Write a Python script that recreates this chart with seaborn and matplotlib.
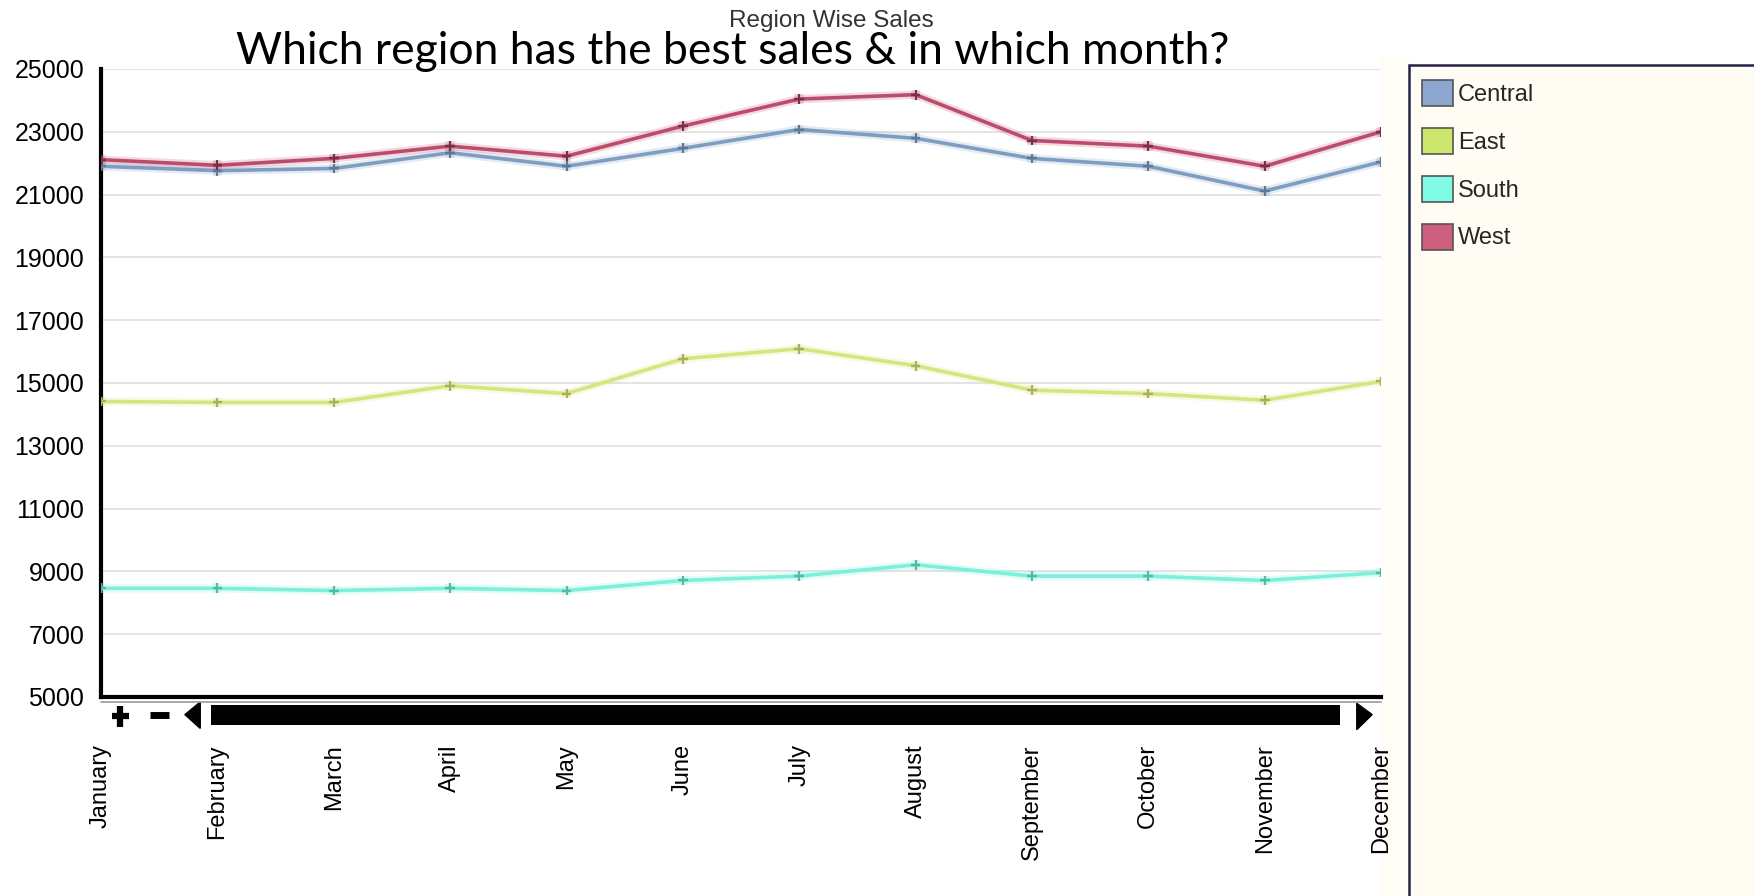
import numpy as np
import pandas as pd
import matplotlib
matplotlib.use("Agg")
import matplotlib.pyplot as plt
import seaborn as sns
from matplotlib.patches import Rectangle, Polygon, Patch
import matplotlib.patheffects as pe

# ---------------- data ----------------
months = ["January", "February", "March", "April", "May", "June", "July",
          "August", "September", "October", "November", "December"]
regions = ["Central", "East", "South", "West"]
central = [21900, 21760, 21830, 22330, 21900, 22470, 23070, 22790, 22150, 21900, 21110, 22040]
east = [14410, 14380, 14380, 14910, 14660, 15770, 16090, 15550, 14770, 14660, 14450, 15050]
south = [8460, 8460, 8390, 8460, 8390, 8710, 8850, 9210, 8850, 8850, 8710, 8960]
west = [22110, 21930, 22150, 22540, 22220, 23180, 24040, 24180, 22720, 22540, 21900, 23000]
y_ticks = list(range(5000, 25001, 2000))

df = pd.DataFrame({
    "Month": months * 4,
    "idx": list(range(len(months))) * 4,
    "Region": [r for r in regions for _ in months],
    "Sales": central + east + south + west,
})

line_colors = {"Central": "#7F9DC2", "East": "#D9E47E", "South": "#7CF0DA", "West": "#BC4C6C"}
marker_colors = {"Central": "#5F7896", "East": "#A8B060", "South": "#58B8A6", "West": "#7A2E48"}
patch_colors = {"Central": "#8CA6D0", "East": "#CDE66E", "South": "#80FCE6", "West": "#CF5F7E"}

# ---------------- figure ----------------
sns.set_theme(style="white")
plt.rcParams["font.family"] = ["Liberation Sans", "DejaVu Sans"]

fig = plt.figure(figsize=(17.54, 8.96), dpi=100, facecolor="white")

# cream strip and legend panel (background decoration)
fig.add_artist(Rectangle((0.787, 0.0), 0.02, 0.935, transform=fig.transFigure,
                         facecolor="#FFFDF6", edgecolor="none", zorder=0))
fig.add_artist(Rectangle((0.8035, -0.02), 0.25, 0.9475, transform=fig.transFigure,
                         facecolor="#FFFCF4", edgecolor="#23234A", lw=1.8, zorder=1))

ax = fig.add_axes([0.0576, 0.2221, 0.7298, 0.701])
ax.set_facecolor("white")

for r in regions:
    sub = df[df["Region"] == r]
    sns.lineplot(data=sub, x="idx", y="Sales", ax=ax, color=line_colors[r],
                 lw=2.6, marker="+", markersize=7, markeredgewidth=1.6,
                 markeredgecolor=marker_colors[r], legend=False, zorder=3,
                 path_effects=[pe.Stroke(linewidth=6, foreground=line_colors[r], alpha=0.2),
                               pe.Normal()])

ax.set_xlim(0, len(months) - 1)
ax.set_ylim(5000, 25000)
ax.set_xticks(range(len(months)))
ax.set_xticklabels(months, rotation=90, va="top", ha="center", fontsize=17)
ax.set_yticks(y_ticks)
ax.set_yticklabels([str(v) for v in y_ticks], fontsize=18)
ax.tick_params(axis="x", length=0, pad=34, colors="black")
ax.tick_params(axis="y", length=0, pad=12, colors="black")
ax.set_xlabel("")
ax.set_ylabel("")
ax.yaxis.grid(True, color="#E2E2E2", lw=1.3)
ax.xaxis.grid(False)
for s in ["top", "right"]:
    ax.spines[s].set_visible(False)
for s in ["left", "bottom"]:
    ax.spines[s].set_visible(True)
    ax.spines[s].set_color("black")
    ax.spines[s].set_linewidth(3)

# scrollbar decoration under the axis
T = ax.transAxes
ax.plot([0, 1], [-0.008, -0.008], transform=T, color="#9A9A9A", lw=1.2, clip_on=False)
ax.plot([0.0085, 0.0215], [-0.03, -0.03], transform=T, color="black", lw=4.5, clip_on=False,
        solid_capstyle="butt")
ax.plot([0.0148, 0.0148], [-0.014, -0.048], transform=T, color="black", lw=4.5, clip_on=False,
        solid_capstyle="butt")
ax.plot([0.038, 0.053], [-0.028, -0.028], transform=T, color="black", lw=5, clip_on=False,
        solid_capstyle="butt")
ax.add_patch(Polygon([[0.0655, -0.028], [0.0775, -0.008], [0.0775, -0.05]], closed=True,
                     transform=T, facecolor="black", edgecolor="black", clip_on=False))
ax.add_patch(Rectangle((0.0856, -0.0446), 0.8821, 0.0321, transform=T,
                       facecolor="black", edgecolor="none", clip_on=False))
ax.add_patch(Polygon([[0.981, -0.01], [0.993, -0.028], [0.981, -0.052]], closed=True,
                     transform=T, facecolor="black", edgecolor="black", clip_on=False))

# titles
fig.text(0.474, 0.977, "Region Wise Sales", ha="center", va="center", fontsize=17.5,
         color="#333333")
fig.text(0.418, 0.942, "Which region has the best sales & in which month?", ha="center",
         va="center", fontsize=32, family=["Lato", "DejaVu Sans"], color="black")

# legend
handles = [Patch(facecolor=patch_colors[r], edgecolor="#555555", lw=1.2) for r in regions]
fig.legend(handles, regions, loc="upper left", bbox_to_anchor=(0.8107, 0.911),
           frameon=False, fontsize=17, handlelength=1.33, handleheight=1.33,
           handletextpad=0.2, labelspacing=0.92, borderaxespad=0, borderpad=0)

fig.savefig("out.png", dpi=100, facecolor="white")
